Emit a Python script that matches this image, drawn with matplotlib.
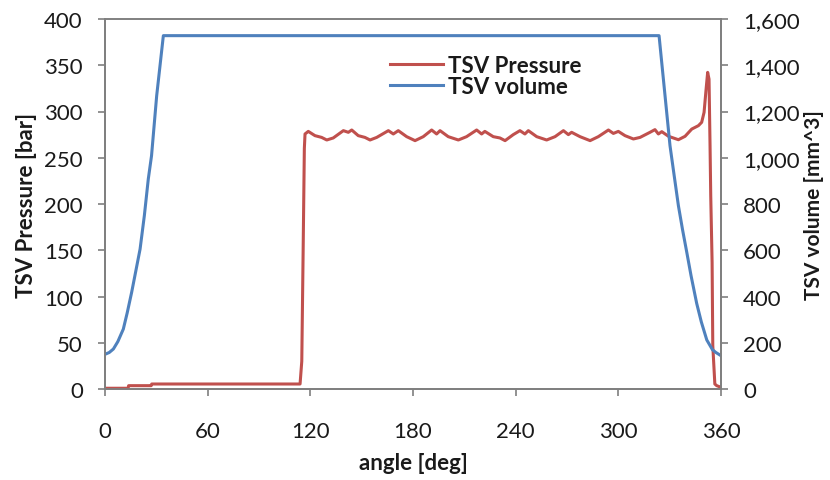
import matplotlib
matplotlib.use("Agg")
import matplotlib.pyplot as plt
from matplotlib.ticker import FuncFormatter, MultipleLocator

plt.rcParams['font.family'] = ['Lato', 'DejaVu Sans']

# ---- data ----
vol_angle = [0, 2.5, 4.9, 7.5, 10.7, 13, 15.6, 18, 20.5, 23, 25.3, 27.2, 30.2, 34.1,
             323.8, 327, 330.2, 332.5, 335.1, 337.5, 340, 342.5, 345.8, 348.5, 351.7, 355, 357, 360]
volume = [150, 158, 173, 205, 259, 330, 419, 510, 605, 750, 908, 1009, 1268, 1528,
          1528, 1290, 1052, 930, 793, 690, 591, 490, 370, 290, 212, 170, 158, 144]

p_angle = [0, 13.5, 13.8, 27, 27.3, 114, 115, 115.8, 116.5, 116.9, 118.8, 122.7, 126.6,
           129.6, 133.4, 139.3, 142.2, 144.2, 148, 151.9, 154.9, 158.8, 165.6, 168.5,
           171.4, 176.3, 181.2, 186, 190.9, 193.8, 195.8, 200.6, 206.5, 211.3, 217.2,
           220.1, 222, 226.9, 230.8, 233.8, 238.6, 242.5, 245.4, 247.4, 252.3, 258.1,
           263, 267.9, 270.8, 272.7, 277.6, 283.5, 288.3, 294.2, 297.1, 300, 303.9,
           308.8, 312.7, 318.5, 321.4, 323.4, 325.4, 329.3, 335.1, 339, 342.9, 346.8,
           348.7, 350.1, 351.3, 352.2, 353, 353.6, 354, 354.8, 355.2, 356.4, 357.5, 360]
pressure = [0.8, 0.8, 3.6, 3.6, 5.4, 5.4, 30, 150, 260, 275.7, 278.5, 273.9, 272,
            269.2, 271.4, 279.3, 277.5, 280, 273.9, 272, 269.2, 272, 279.3, 275.7,
            279.3, 272.8, 268.5, 272.8, 280, 275.7, 279.3, 272.8, 269.2, 272.8, 280,
            275.7, 278.5, 272.8, 271.4, 268.5, 275, 279.3, 275.7, 279.3, 272.8, 269.2,
            272.8, 279.3, 275, 277.5, 272.8, 268.5, 272.8, 280, 276.3, 278.5, 273.9,
            270.3, 272, 277.5, 280.4, 275.7, 278.2, 273.2, 269.5, 273.2, 281, 284.7,
            288.3, 299, 324.3, 342.3, 335, 263, 209, 137, 47, 5.4, 3.6, 1.8]

x_ticks = [0, 60, 120, 180, 240, 300, 360]

red = '#C0504D'
blue = '#4F81BD'
txt = '#1a1a1a'
spine = '#7f7f7f'
fs = 16

fig = plt.figure(figsize=(8.30, 4.81), dpi=100)
ax = fig.add_axes([105/830, 1 - 390/481, 616/830, 370/481])
ax2 = ax.twinx()

lp, = ax.plot(p_angle, pressure, color=red, lw=2.2, label='TSV Pressure', zorder=3)
lv, = ax2.plot(vol_angle, volume, color=blue, lw=2.2, label='TSV volume')

ax.set_xlim(0, 360)
ax.set_ylim(0, 400)
ax2.set_ylim(0, 1600)
ax.set_xticks(x_ticks)
ax.yaxis.set_major_locator(MultipleLocator(50))
ax2.yaxis.set_major_locator(MultipleLocator(200))
ax2.yaxis.set_major_formatter(FuncFormatter(lambda v, p: f"{v:,.0f}"))

for a in (ax, ax2):
    for s in a.spines.values():
        s.set_color(spine)
        s.set_linewidth(1.3)
ax.spines['top'].set_color('#a0a0a0')

ax.tick_params(axis='x', direction='out', length=5, width=1.2, color=spine,
               labelsize=fs, labelcolor=txt, pad=18)
ax.tick_params(axis='y', direction='out', length=5, width=1.2, color=spine,
               labelsize=fs, labelcolor=txt, pad=11)
ax2.tick_params(axis='y', direction='out', length=5, width=1.2, color=spine,
                labelsize=fs, labelcolor=txt, pad=11)

ax.set_xlabel('angle [deg]', fontsize=fs, fontweight='bold', color=txt, labelpad=8)
ax.set_ylabel('TSV Pressure [bar]', fontsize=fs, fontweight='bold', color=txt, labelpad=5)
ax2.set_ylabel('TSV volume [mm^3]', fontsize=15, fontweight='bold', color=txt, labelpad=3)

leg = fig.legend([lp, lv], ['TSV Pressure', 'TSV volume'], loc='upper left',
                 bbox_to_anchor=(390/830, 1 - 56/481), frameon=False,
                 prop={'size': fs, 'weight': 'bold'}, handlelength=2.4,
                 handletextpad=0.2, labelspacing=0.0, borderpad=0, borderaxespad=0)
for t in leg.get_texts():
    t.set_color(txt)

fig.savefig('out.png', dpi=100)
